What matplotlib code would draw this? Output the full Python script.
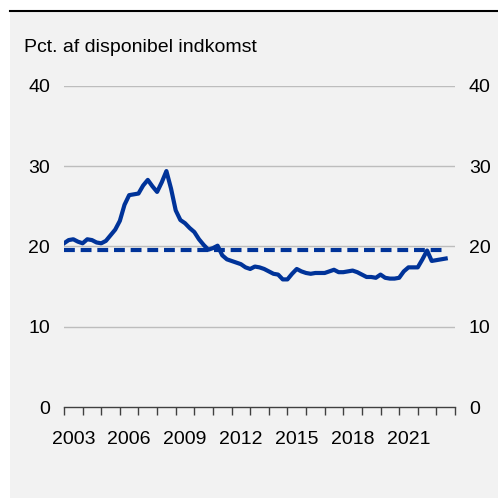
import matplotlib.pyplot as plt
import numpy as np
from matplotlib.patches import Rectangle
from matplotlib.lines import Line2D

plt.rcParams['font.family'] = ['Liberation Sans', 'DejaVu Sans']

# quarterly series, 2003Q1 ->
values = [20.4, 20.8, 20.9, 20.6, 20.4, 20.9, 20.8, 20.5, 20.4, 20.7,
          21.4, 22.1, 23.2, 25.2, 26.4, 26.5, 26.6, 27.6, 28.3, 27.5,
          26.8, 28.0, 29.4, 27.2, 24.5, 23.3, 22.9, 22.3, 21.8, 20.9,
          20.2, 19.6, 19.8, 20.1, 18.9, 18.4, 18.2, 18.0, 17.8, 17.4,
          17.2, 17.5, 17.4, 17.2, 16.9, 16.6, 16.5, 15.9, 15.9, 16.6,
          17.2, 16.9, 16.7, 16.6, 16.7, 16.7, 16.7, 16.9, 17.1, 16.8,
          16.8, 16.9, 17.0, 16.8, 16.5, 16.2, 16.2, 16.1, 16.5, 16.1,
          16.0, 16.0, 16.1, 16.9, 17.4, 17.4, 17.4, 18.4, 19.5, 18.2,
          18.3, 18.4, 18.5]
average = 19.6
start_year = 2003
yticks = [0, 10, 20, 30, 40]
xlabel_years = [2003, 2006, 2009, 2012, 2015, 2018, 2021]

x = start_year + 0.25 * np.arange(len(values))
blue = '#003399'
fs = 14

fig = plt.figure(figsize=(4.98, 4.98), dpi=100)
fig.patch.set_facecolor('white')
fig.patches.append(Rectangle((10 / 498, 0), 1, 1 - 10 / 498, transform=fig.transFigure,
                             facecolor='#f2f2f2', edgecolor='none', zorder=-5))
fig.lines.append(Line2D([10 / 498, 1], [1 - 11 / 498, 1 - 11 / 498], transform=fig.transFigure,
                        color='black', linewidth=1.5, zorder=-4))

ax = fig.add_axes((64 / 498, 1 - 407 / 498, 391 / 498, 321 / 498))
ax.set_zorder(2)
ax.set_facecolor('none')
ax.set_xlim(2003, 2024)
ax.set_ylim(0, 40)

for y in yticks[1:]:
    ax.axhline(y, color='#bdbdbd', linewidth=1.0, zorder=1)

ax.plot(x, values, color=blue, linewidth=3.0, zorder=3, solid_joinstyle='round')
ax.plot([x[0], x[-1]], [average, average], color=blue, linewidth=3.0,
        dashes=(2.6, 1.4), zorder=3)

for s in ['top', 'right', 'left']:
    ax.spines[s].set_visible(False)
ax.spines['bottom'].set_color('#404040')
ax.spines['bottom'].set_linewidth(1.0)

ax.set_xticks(np.arange(2003, 2025), minor=False)
ax.set_xticklabels([])
ax.tick_params(axis='x', which='major', direction='out', length=6, width=1, color='#404040')
ax.set_xticks([yr + 0.5 for yr in xlabel_years], minor=True)
ax.set_xticklabels([str(yr) for yr in xlabel_years], minor=True)
ax.tick_params(axis='x', which='minor', length=0, pad=17, labelsize=fs)

ax.set_yticks(yticks)
ax.tick_params(axis='y', length=0, labelsize=fs, labelleft=True, labelright=True, pad=10)

fig.text(24 / 498, 1 - 48 / 498, 'Pct. af disponibel indkomst', fontsize=fs,
         va='center', ha='left')

fig.savefig('out.png', dpi=100)
